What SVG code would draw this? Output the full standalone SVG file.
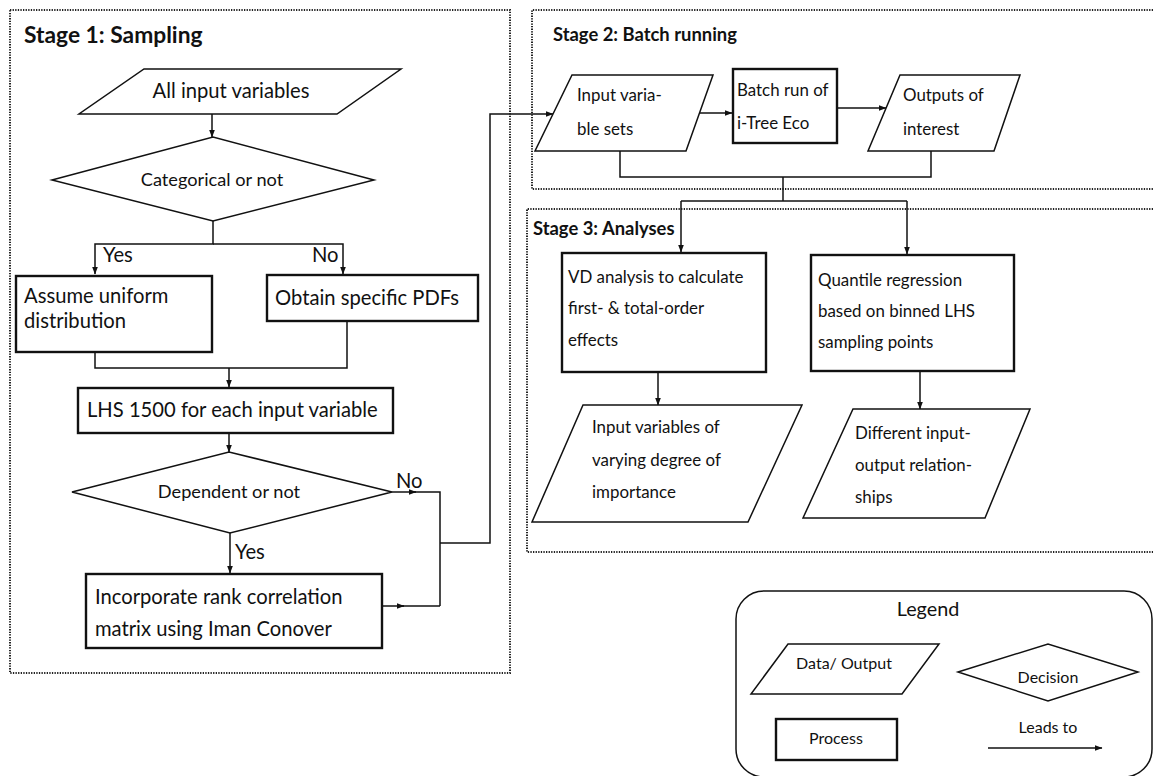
<svg xmlns="http://www.w3.org/2000/svg" width="1153" height="776" viewBox="0 0 1153 776">
<style>
text{font-family:Lato,"Open Sans","Liberation Sans",sans-serif;fill:#111;}
.t{font-size:20.2px;}
.u{font-size:16.9px;}
.s{font-size:18.2px;}
.g{font-size:16px;}
.h1{font-size:22.8px;font-weight:bold;}
.h{font-size:18.4px;font-weight:bold;}
.c{text-anchor:middle;}
.stage{fill:none;stroke:#222;stroke-width:2;stroke-dasharray:1.3 1.3;}
.data{fill:#fff;stroke:#111;stroke-width:1.5;stroke-linejoin:miter;}
.proc{fill:#fff;stroke:#111;stroke-width:2.4;}
.dec{fill:#fff;stroke:#111;stroke-width:1.5;}
.ln{fill:none;stroke:#111;stroke-width:1.5;}
</style>
<defs>
<marker id="ah" markerUnits="userSpaceOnUse" markerWidth="8" markerHeight="8" viewBox="0 0 8 8" refX="7.5" refY="4" orient="auto">
<path d="M0,1 L8,4 L0,7 Z" fill="#111"/>
</marker>
</defs>

<rect fill="#fff" x="0" y="0" width="1153" height="776"/>

<g id="stage1">
<rect class="stage" x="10" y="10" width="500" height="663"/>
<text class="h1" x="24" y="43">Stage 1: Sampling</text>
</g>
<g id="stage2">
<path class="stage" d="M1153,10 H532 V189 H1153"/>
<text class="h" x="553" y="41">Stage 2: Batch running</text>
</g>
<g id="stage3">
<path class="stage" d="M1153,209 H527 V552 H1153"/>
<text class="h" x="533" y="235">Stage 3: Analyses</text>
</g>

<g id="connectors">
<path class="ln" d="M212,114 V137" marker-end="url(#ah)"/>
<path class="ln" d="M213,221 V244 H95 V274" marker-end="url(#ah)"/>
<path class="ln" d="M213,244 H343 V274" marker-end="url(#ah)"/>
<path class="ln" d="M95,352 V368 H347 V321"/>
<path class="ln" d="M229,368 V387" marker-end="url(#ah)"/>
<path class="ln" d="M229,433 V452" marker-end="url(#ah)"/>
<path class="ln" d="M230,533 V573" marker-end="url(#ah)"/>
<path class="ln" d="M392,492 H416" marker-end="url(#ah)"/>
<path class="ln" d="M410,492 H440 V606"/>
<path class="ln" d="M383,606 H404" marker-end="url(#ah)"/>
<path class="ln" d="M400,606 H440"/>
<path class="ln" d="M440,543 H490 V114 H553" marker-end="url(#ah)"/>
<path class="ln" d="M700,113 H732" marker-end="url(#ah)"/>
<path class="ln" d="M837,108 H886" marker-end="url(#ah)"/>
<path class="ln" d="M620,151 V177 H931 V151"/>
<path class="ln" d="M783,177 V201"/>
<path class="ln" d="M681,201 H907"/>
<path class="ln" d="M681,201 V252" marker-end="url(#ah)"/>
<path class="ln" d="M907,201 V254" marker-end="url(#ah)"/>
<path class="ln" d="M658,372 V405" marker-end="url(#ah)"/>
<path class="ln" d="M920,371 V409" marker-end="url(#ah)"/>
</g>

<g id="all-input">
<polygon class="data" points="144,69 401,69 337,114 79,114"/>
<text class="t c" x="231" y="98">All input variables</text>
</g>
<g id="categorical">
<polygon class="dec" points="52,180 213,137 374,180 213,221"/>
<text class="s c" x="212" y="186">Categorical or not</text>
</g>
<g id="yes1"><text class="t" x="103" y="262">Yes</text></g>
<g id="no1"><text class="t" x="312" y="262">No</text></g>
<g id="assume-uniform">
<rect class="proc" x="16" y="276" width="196" height="76"/>
<text class="t" x="24" y="303">Assume uniform</text>
<text class="t" x="24" y="328">distribution</text>
</g>
<g id="obtain-pdfs">
<rect class="proc" x="267" y="275" width="211" height="46"/>
<text class="t" x="275" y="305">Obtain specific PDFs</text>
</g>
<g id="lhs">
<rect class="proc" x="78" y="388" width="315" height="45"/>
<text class="t" x="87" y="417">LHS 1500 for each input variable</text>
</g>
<g id="dependent">
<polygon class="dec" points="72,492 229,452 392,492 230,533"/>
<text class="s c" x="229" y="498">Dependent or not</text>
</g>
<g id="no2"><text class="t" x="396" y="488">No</text></g>
<g id="yes2"><text class="t" x="235" y="559">Yes</text></g>
<g id="incorporate">
<rect class="proc" x="86" y="574" width="296" height="74"/>
<text class="t" x="95" y="604">Incorporate rank correlation</text>
<text class="t" x="95" y="636">matrix using Iman Conover</text>
</g>

<g id="input-sets">
<polygon class="data" points="572,75 713,75 686,151 535,151"/>
<text class="u" x="577" y="101">Input varia-</text>
<text class="u" x="577" y="135">ble sets</text>
</g>
<g id="batch-run">
<rect class="proc" x="733" y="69" width="104" height="74"/>
<text class="u" x="737" y="96">Batch run of</text>
<text class="u" x="737" y="129">i-Tree Eco</text>
</g>
<g id="outputs">
<polygon class="data" points="900,75 1020,75 994,151 868,151"/>
<text class="u" x="903" y="101">Outputs of</text>
<text class="u" x="903" y="135">interest</text>
</g>

<g id="vd-analysis">
<rect class="proc" x="562" y="253" width="204" height="119"/>
<text class="u" x="568" y="283">VD analysis to calculate</text>
<text class="u" x="568" y="314">first- &amp; total-order</text>
<text class="u" x="568" y="346">effects</text>
</g>
<g id="quantile">
<rect class="proc" x="811" y="255" width="203" height="116"/>
<text class="u" x="818" y="286">Quantile regression</text>
<text class="u" x="818" y="317">based on binned LHS</text>
<text class="u" x="818" y="348">sampling points</text>
</g>
<g id="importance">
<polygon class="data" points="583,405 802,405 748,522 532,522"/>
<text class="u" x="592" y="433">Input variables of</text>
<text class="u" x="592" y="466">varying degree of</text>
<text class="u" x="592" y="498">importance</text>
</g>
<g id="relationships">
<polygon class="data" points="853,409 1030,409 985,518 803,518"/>
<text class="u" x="855" y="439">Different input-</text>
<text class="u" x="855" y="471">output relation-</text>
<text class="u" x="855" y="503">ships</text>
</g>

<g id="legend">
<rect x="736" y="591" width="416" height="186" rx="28" ry="28" fill="none" stroke="#111" stroke-width="1.5"/>
<text class="c" x="928" y="616" style="font-size:19.8px">Legend</text>
<polygon class="data" points="788,644 939,644 902,694 751,694"/>
<text class="g c" x="844" y="669">Data/ Output</text>
<polygon class="dec" points="958,672 1048,644 1138,672 1048,701"/>
<text class="g c" x="1048" y="683">Decision</text>
<rect class="proc" x="776" y="719" width="121" height="41"/>
<text class="g c" x="836" y="744">Process</text>
<text class="g c" x="1048" y="733">Leads to</text>
<path class="ln" d="M988,748 H1102" marker-end="url(#ah)"/>
</g>
</svg>
